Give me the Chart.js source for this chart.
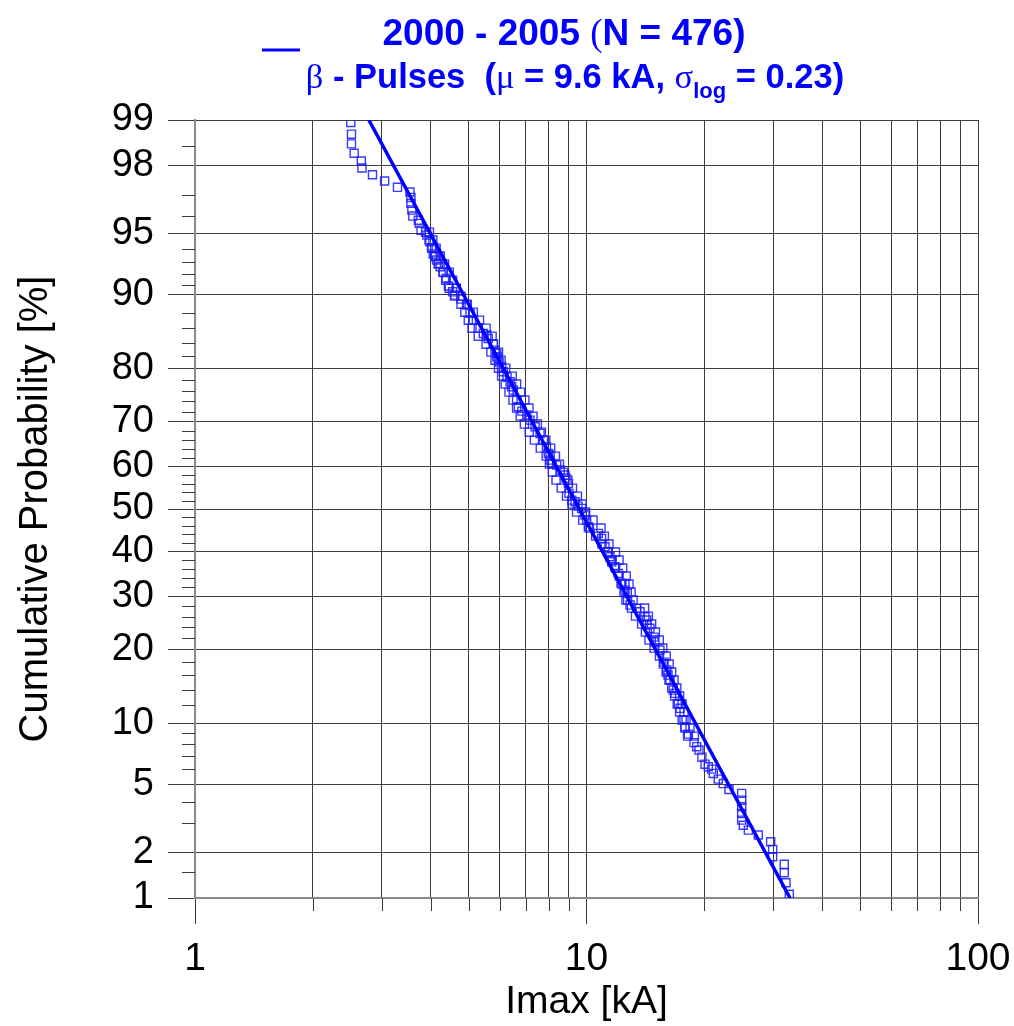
<!DOCTYPE html>
<html><head><meta charset="utf-8">
<script src="https://cdn.jsdelivr.net/npm/chart.js@4"></script>
<style>html,body{margin:0;padding:0;background:#fff}</style>
</head><body>
<canvas id="c" width="1014" height="1026"></canvas>
<script>
// ---- data: peak current [kA] and cumulative probability [%] ----
// individual markers traced along the sample
const pointCurrent = [2.50,2.51,2.51,2.55,2.66,2.67,2.84,3.05,3.29,3.54,
 3.56,3.56,3.58,3.60,3.72,3.74,3.78,3.91,3.98,4.02,
 4.06,4.10,4.14,4.18,4.23,4.31,4.38,4.44,4.55,4.61,
 4.78,4.94,5.04,5.14,5.29,5.45,5.56,5.61,5.78,5.84,
 5.90,5.90,5.95,5.98,6.07,6.13,6.27,6.38,6.44,6.50,
 6.63,6.70,6.84,7.04,7.17,7.39,7.61,7.76,7.90,7.99,
 8.07,8.07,8.15,8.39,8.56,8.81,8.86,8.99,9.02,9.17,
 9.35,9.51,9.72,9.91,10.01,10.11,10.72,10.93,11.15,11.34,
 11.48,11.60,11.82,12.06,12.25,12.54,12.54,12.71,12.73,12.92,
 13.43,13.70,14.10,14.25,14.27,14.52,14.87,14.96,15.40,15.78,
 16.03,16.15,16.34,16.66,16.83,17.16,17.34,17.74,17.85,18.20,
 18.82,19.12,19.38,19.72,20.08,20.47,20.88,21.08,21.71,22.36,
 23.12,24.91,24.91,24.91,24.91,24.91,25.15,25.91,27.47,29.54,
 29.89,29.89,32.00,32.00,32.33,32.96];
const pointProb = [98.96,98.75,98.55,98.33,98.13,97.93,97.72,97.51,97.28,97.10,
 96.88,96.62,96.31,96.01,95.79,95.62,95.23,94.93,94.50,94.10,
 93.63,93.42,93.18,92.90,92.63,92.13,91.61,90.88,90.30,89.96,
 89.53,88.87,87.90,87.07,86.04,85.31,85.09,84.61,83.80,82.89,
 82.40,81.86,81.61,81.02,80.24,79.41,78.48,77.66,76.76,76.15,
 74.27,72.95,72.08,71.28,70.25,68.85,67.44,65.99,64.44,63.02,
 62.64,61.50,60.75,60.35,59.20,58.04,57.33,56.08,53.72,52.12,
 51.72,50.69,50.14,48.55,47.36,45.76,44.20,43.02,41.06,39.90,
 38.76,37.61,36.48,35.01,32.88,32.82,31.38,30.69,29.30,28.28,
 27.62,26.93,25.95,25.33,24.37,23.77,22.18,21.36,19.94,17.99,
 16.78,16.03,15.32,13.94,13.51,12.25,11.66,10.34,9.64,8.91,
 8.12,7.76,7.47,6.89,6.35,6.16,5.99,5.69,5.31,5.03,
 4.67,4.45,4.08,3.75,3.43,3.14,2.93,2.74,2.56,2.33,
 2.09,1.88,1.68,1.48,1.27,1.06];
// dense band: left and right edge markers read at each probability level
const bandProb = [95.11,94.61,94.06,93.48,92.85,92.17,91.44,90.67,89.85,88.97,
 88.04,87.06,86.02,84.93,83.79,82.59,81.33,80.02,78.66,77.25,
 75.77,74.26,72.69,71.07,69.42,67.71,65.98,64.21,62.41,60.58,
 58.73,56.86,54.97,53.07,51.17,49.26,47.36,45.46,43.56,41.69,
 39.83,38.00,36.19,34.41,32.67,30.96,29.30,27.68,26.09,24.57,
 23.09,21.66,20.28,18.96,17.69,16.48,15.32,14.22,13.17,12.17,
 11.23,10.34,9.51,8.72];
const bandLeftCurrent = [3.88,3.96,4.03,4.11,4.19,4.30,4.37,4.46,4.60,4.78,
 4.89,4.99,5.10,5.29,5.54,5.70,5.84,5.96,6.07,6.20,
 6.34,6.49,6.63,6.77,6.94,7.14,7.36,7.62,7.89,8.04,
 8.18,8.36,8.62,8.89,9.18,9.43,9.78,10.17,10.55,10.96,
 11.37,11.62,11.87,12.12,12.32,12.47,12.61,13.03,13.34,13.83,
 14.14,14.44,14.88,15.36,15.71,15.97,16.24,16.51,16.79,17.05,
 17.29,17.55,17.84,18.12];
const bandRightCurrent = [3.97,4.05,4.13,4.23,4.34,4.46,4.55,4.65,4.78,4.96,
 5.14,5.33,5.54,5.74,5.79,5.96,6.05,6.22,6.46,6.63,
 6.79,6.96,7.13,7.30,7.49,7.67,7.87,8.10,8.33,8.53,
 8.73,8.96,9.21,9.48,9.75,9.95,10.39,10.89,11.11,11.41,
 11.86,12.11,12.37,12.63,12.84,13.00,13.15,14.07,14.39,14.67,
 15.00,15.34,15.66,15.98,16.26,16.50,16.73,17.01,17.29,17.55,
 17.75,17.96,18.38,18.86];
const fitCurrent = [2.78, 33.1];
const fitProb = [99, 1];
const yMajorTicks = [1,2,5,10,20,30,40,50,60,70,80,90,95,98,99];
const yMinorTicks = [1.5,3,4,6,7,8,9,12,14,16,18,22,24,26,28,32,34,36,38,42,44,46,48,
 52,54,56,58,62,64,66,68,72,74,76,78,82,84,86,88,91,92,93,94,96,97,98.5];
const xMajorTicks = [1,10,100];
const xMinorTicks = [2,3,4,5,6,7,8,9,20,30,40,50,60,70,80,90];
const titleLine1 = ["2000 - 2005 ", "(", "N = 476)"];
const titleLine2 = ["\u03B2", " - Pulses  (", "\u03BC", " = 9.6 kA, ", "\u03C3", "log", " = 0.23)"];
const xTitle = "Imax [kA]";
const yTitle = "Cumulative Probability [%]";

// ---- probability-scale transform (inverse normal CDF) ----
function probit(pct){
  const p = pct/100;
  const a=[-3.969683028665376e+01,2.209460984245205e+02,-2.759285104469687e+02,1.383577518672690e+02,-3.066479806614716e+01,2.506628277459239e+00];
  const b=[-5.447609879822406e+01,1.615858368580409e+02,-1.556989798598866e+02,6.680131188771972e+01,-1.328068155288572e+01];
  const c=[-7.784894002430293e-03,-3.223964580411365e-01,-2.400758277161838e+00,-2.549732539343734e+00,4.374664141464968e+00,2.938163982698783e+00];
  const d=[7.784695709041462e-03,3.224671290700398e-01,2.445134137142996e+00,3.754408661907416e+00];
  const pl=0.02425;
  let q,r;
  if(p<pl){q=Math.sqrt(-2*Math.log(p));return (((((c[0]*q+c[1])*q+c[2])*q+c[3])*q+c[4])*q+c[5])/((((d[0]*q+d[1])*q+d[2])*q+d[3])*q+1);}
  if(p<=1-pl){q=p-0.5;r=q*q;return (((((a[0]*r+a[1])*r+a[2])*r+a[3])*r+a[4])*r+a[5])*q/(((((b[0]*r+b[1])*r+b[2])*r+b[3])*r+b[4])*r+1);}
  q=Math.sqrt(-2*Math.log(1-p));return -(((((c[0]*q+c[1])*q+c[2])*q+c[3])*q+c[4])*q+c[5])/((((d[0]*q+d[1])*q+d[2])*q+d[3])*q+1);
}

const BLUE = '#0000ff';
const GRID = '#3c3c3c';
const AXIS = '#8a8a8a';
const FONT = '"Liberation Sans", Arial, sans-serif';
const SERIF = '"Liberation Serif", "Times New Roman", serif';

const scatterData = [
  ...pointCurrent.map((v,i)=>({x:v, y:probit(pointProb[i])})),
  ...bandLeftCurrent.map((v,i)=>({x:v, y:probit(bandProb[i])})),
  ...bandRightCurrent.map((v,i)=>({x:v, y:probit(bandProb[i])}))
];
const fitData = fitCurrent.map((v,i)=>({x:v, y:probit(fitProb[i])}));
const xAllTicks = [...xMajorTicks, ...xMinorTicks].sort((a,b)=>a-b);

const extras = {
  id:'extras',
  afterDraw(chart){
    const ctx = chart.ctx, ca = chart.chartArea;
    const xs = chart.scales.x, ys = chart.scales.y;
    ctx.save();
    ctx.strokeStyle = GRID; ctx.lineWidth = 1;
    yMinorTicks.forEach(p=>{
      const y = Math.round(ys.getPixelForValue(probit(p)))+0.5;
      ctx.beginPath(); ctx.moveTo(ca.left-13, y); ctx.lineTo(ca.left, y); ctx.stroke();
    });
    xMinorTicks.forEach(v=>{
      const x = Math.round(xs.getPixelForValue(v))+0.5;
      ctx.beginPath(); ctx.moveTo(x, ca.bottom); ctx.lineTo(x, ca.bottom+13); ctx.stroke();
    });
    ctx.fillStyle = BLUE; ctx.textBaseline = 'alphabetic';
    const s1 = 37, s2 = 34.5;
    const segs1 = [[titleLine1[0], 'bold '+s1+'px '+FONT, 0],[titleLine1[1], s1+'px '+SERIF, 0],[titleLine1[2], 'bold '+s1+'px '+FONT, 0]];
    const segs2 = [[titleLine2[0], s2+'px '+SERIF, 0],[titleLine2[1], 'bold '+s2+'px '+FONT, 0],[titleLine2[2], s2+'px '+SERIF, 0],
      [titleLine2[3], 'bold '+s2+'px '+FONT, 0],[titleLine2[4], s2+'px '+SERIF, 0],[titleLine2[5], 'bold 22px '+FONT, 10],[titleLine2[6], 'bold '+s2+'px '+FONT, 0]];
    function drawSegs(segs, cx, base){
      let w = 0; segs.forEach(s=>{ctx.font=s[1]; w+=ctx.measureText(s[0]).width;});
      let x = cx - w/2;
      segs.forEach(s=>{ctx.font=s[1]; ctx.fillText(s[0], x, base+s[2]); x+=ctx.measureText(s[0]).width;});
    }
    drawSegs(segs1, 564, 45);
    drawSegs(segs2, 575, 88);
    ctx.strokeStyle = BLUE; ctx.lineWidth = 3;
    ctx.beginPath(); ctx.moveTo(262, 50); ctx.lineTo(300, 50); ctx.stroke();
    ctx.restore();
  }
};

new Chart(document.getElementById('c'), {
  type:'scatter',
  data:{datasets:[
    {label:'data', data:scatterData, showLine:false, pointStyle:'rect', pointRadius:5.7,
     borderColor:'rgba(30,30,255,0.88)', backgroundColor:'rgba(0,0,0,0)', borderWidth:1.4, order:2},
    {label:'fit', data:fitData, showLine:true, borderColor:BLUE, borderWidth:3.5, pointRadius:0, order:1}
  ]},
  options:{
    responsive:false, animation:false, devicePixelRatio:1,
    layout:{padding:{top:120,right:36,left:0,bottom:0}},
    plugins:{legend:{display:false}, title:{display:false}, tooltip:{enabled:false}},
    scales:{
      x:{type:'logarithmic', min:1, max:100,
        afterBuildTicks(s){ s.ticks = xAllTicks.map(v=>({value:v, major:false})); },
        afterFit(s){ s.height = 128; s.paddingLeft = 0; s.paddingRight = 0; },
        ticks:{autoSkip:false, maxRotation:0, padding:12, color:'#000', font:{family:FONT, size:39},
          callback(v){ return xMajorTicks.includes(v) ? String(v) : ''; }},
        grid:{color:GRID, lineWidth:1, tickLength:26,
          tickColor(ctx){ return (ctx.tick && xMajorTicks.includes(ctx.tick.value)) ? GRID : 'rgba(0,0,0,0)'; }},
        border:{color:AXIS, width:2},
        title:{display:true, text:xTitle, color:'#000', font:{family:FONT, size:39}, padding:{top:0,bottom:0}}
      },
      y:{type:'linear', min:probit(1), max:probit(99),
        afterBuildTicks(s){ s.ticks = yMajorTicks.map(p=>({value:probit(p)})); },
        afterFit(s){ s.width = 195; s.paddingTop = 0; s.paddingBottom = 0; },
        ticks:{autoSkip:false, padding:14, color:'#000', font:{family:FONT, size:38},
          callback(v, i){ return String(yMajorTicks[i]); }},
        grid:{color:GRID, lineWidth:1, tickLength:27},
        border:{color:AXIS, width:2},
        title:{display:true, text:yTitle, color:'#000', font:{family:FONT, size:40}, padding:{top:12,bottom:0}}
      }
    }
  },
  plugins:[extras]
});
</script>
</body></html>
